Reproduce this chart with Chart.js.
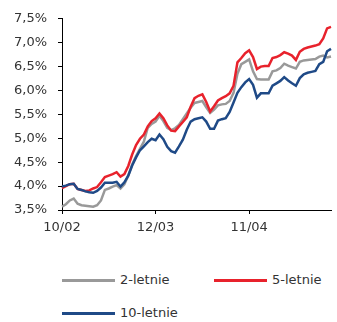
<!DOCTYPE html>
<html>
<head>
<meta charset="utf-8">
<script src="https://cdn.jsdelivr.net/npm/chart.js@4"></script>
<style>
  body { margin: 0; background: #fff; }
  #wrap { position: relative; width: 337px; height: 322px; font-family: "DejaVu Sans", sans-serif; }
  #plot { position: absolute; left: 0; top: 0; width: 337px; height: 245px; }
  .leg { position: absolute; font-size: 13px; color: #333; line-height: 16px; }
  .leg i { position: absolute; left: -58px; top: 7px; width: 53px; height: 3px; }
</style>
</head>
<body>
<div id="wrap">
  <div id="plot"><canvas id="myChart"></canvas></div>
  <div class="leg" style="left:120px; top:272px"><i style="background:#999999"></i>2-letnie</div>
  <div class="leg" style="left:272px; top:272px"><i style="background:#e8222c"></i>5-letnie</div>
  <div class="leg" style="left:120px; top:305px"><i style="background:#1f4a87"></i>10-letnie</div>
</div>
<script>
// weekly points, x-axis labels shown every 24 points
var tickLabels = ['10/02', '12/03', '11/04'];
var tickEvery = 24;

var twoYear = [3.57, 3.62, 3.70, 3.74, 3.63, 3.60, 3.59, 3.58, 3.57, 3.60,
  3.70, 3.92, 3.95, 3.99, 4.02, 3.95, 4.04, 4.22, 4.45, 4.63,
  4.78, 4.93, 5.22, 5.30, 5.35, 5.47, 5.36, 5.22, 5.17, 5.21,
  5.28, 5.40, 5.52, 5.64, 5.74, 5.76, 5.78, 5.65, 5.53, 5.60,
  5.69, 5.71, 5.72, 5.78, 5.95, 6.35, 6.55, 6.60, 6.65, 6.40,
  6.24, 6.23, 6.23, 6.23, 6.40, 6.42, 6.47, 6.56, 6.52, 6.49,
  6.46, 6.60, 6.63, 6.64, 6.65, 6.66, 6.71, 6.73, 6.69, 6.71];

var fiveYear = [3.96, 4.00, 4.04, 4.05, 3.94, 3.92, 3.90, 3.91, 3.95, 3.98,
  4.08, 4.19, 4.22, 4.25, 4.29, 4.20, 4.25, 4.42, 4.66, 4.86,
  4.99, 5.08, 5.25, 5.36, 5.42, 5.52, 5.42, 5.27, 5.16, 5.15,
  5.25, 5.34, 5.44, 5.66, 5.84, 5.89, 5.92, 5.76, 5.56, 5.67,
  5.79, 5.84, 5.88, 5.94, 6.10, 6.59, 6.68, 6.78, 6.84, 6.70,
  6.45, 6.50, 6.51, 6.51, 6.68, 6.70, 6.74, 6.80, 6.77, 6.73,
  6.64, 6.81, 6.87, 6.90, 6.92, 6.94, 6.97, 7.09, 7.30, 7.33];

var tenYear = [3.99, 4.01, 4.04, 4.05, 3.94, 3.92, 3.89, 3.87, 3.86, 3.90,
  3.97, 4.07, 4.07, 4.07, 4.09, 3.99, 4.08, 4.22, 4.43, 4.60,
  4.75, 4.83, 4.92, 4.99, 4.96, 5.08, 4.98, 4.82, 4.73, 4.70,
  4.83, 4.97, 5.18, 5.35, 5.40, 5.42, 5.44, 5.35, 5.20, 5.20,
  5.37, 5.40, 5.42, 5.55, 5.75, 5.95, 6.07, 6.17, 6.24, 6.12,
  5.85, 5.94, 5.94, 5.94, 6.10, 6.15, 6.20, 6.28, 6.21, 6.15,
  6.10, 6.26, 6.34, 6.37, 6.39, 6.41, 6.55, 6.60, 6.82, 6.87];

var weeks = twoYear.map(function (v, i) { return i; });

function showTick(i) {
  return i % tickEvery === 0 && i / tickEvery < tickLabels.length;
}

var ctx = document.getElementById('myChart').getContext('2d');
var myChart = new Chart(ctx, {
  type: 'line',
  data: {
    labels: weeks,
    datasets: [{
        label: '2-letnie',
        data: twoYear,
        borderColor: '#999999',
        borderWidth: 2.5,
        order: 3
      }, {
        label: '5-letnie',
        data: fiveYear,
        borderColor: '#e8222c',
        borderWidth: 2.5,
        order: 2
      }, {
        label: '10-letnie',
        data: tenYear,
        borderColor: '#1f4a87',
        borderWidth: 2.5,
        order: 1
      }
    ]
  },
  options: {
    responsive: true,
    maintainAspectRatio: false,
    animation: false,
    layout: { padding: { top: 10, right: 0, left: 0, bottom: 0 } },
    elements: { point: { radius: 0 }, line: { tension: 0 } },
    plugins: {
      legend: { display: false },
      tooltip: { enabled: false }
    },
    scales: {
      x: {
        type: 'category',
        offset: false,
        afterFit: function (s) { s.height = 35; },
        border: { color: '#000', width: 1 },
        grid: {
          drawOnChartArea: false,
          tickLength: 4,
          color: function (c) { return showTick(c.index) ? '#000' : 'rgba(0,0,0,0)'; }
        },
        ticks: {
          autoSkip: false,
          maxRotation: 0,
          padding: 6,
          color: '#333',
          font: { family: 'DejaVu Sans', size: 13 },
          callback: function (v, i) { return showTick(i) ? tickLabels[i / tickEvery] : ''; }
        }
      },
      y: {
        min: 3.5,
        max: 7.5,
        afterFit: function (s) { s.width = 62; },
        border: { color: '#000', width: 1 },
        grid: { drawOnChartArea: false, tickLength: 4, color: '#000' },
        ticks: {
          stepSize: 0.5,
          padding: 11,
          color: '#333',
          font: { family: 'DejaVu Sans', size: 13 },
          callback: function (v) { return v.toFixed(1).replace('.', ',') + '%'; }
        }
      }
    }
  }
});
</script>
</body>
</html>
